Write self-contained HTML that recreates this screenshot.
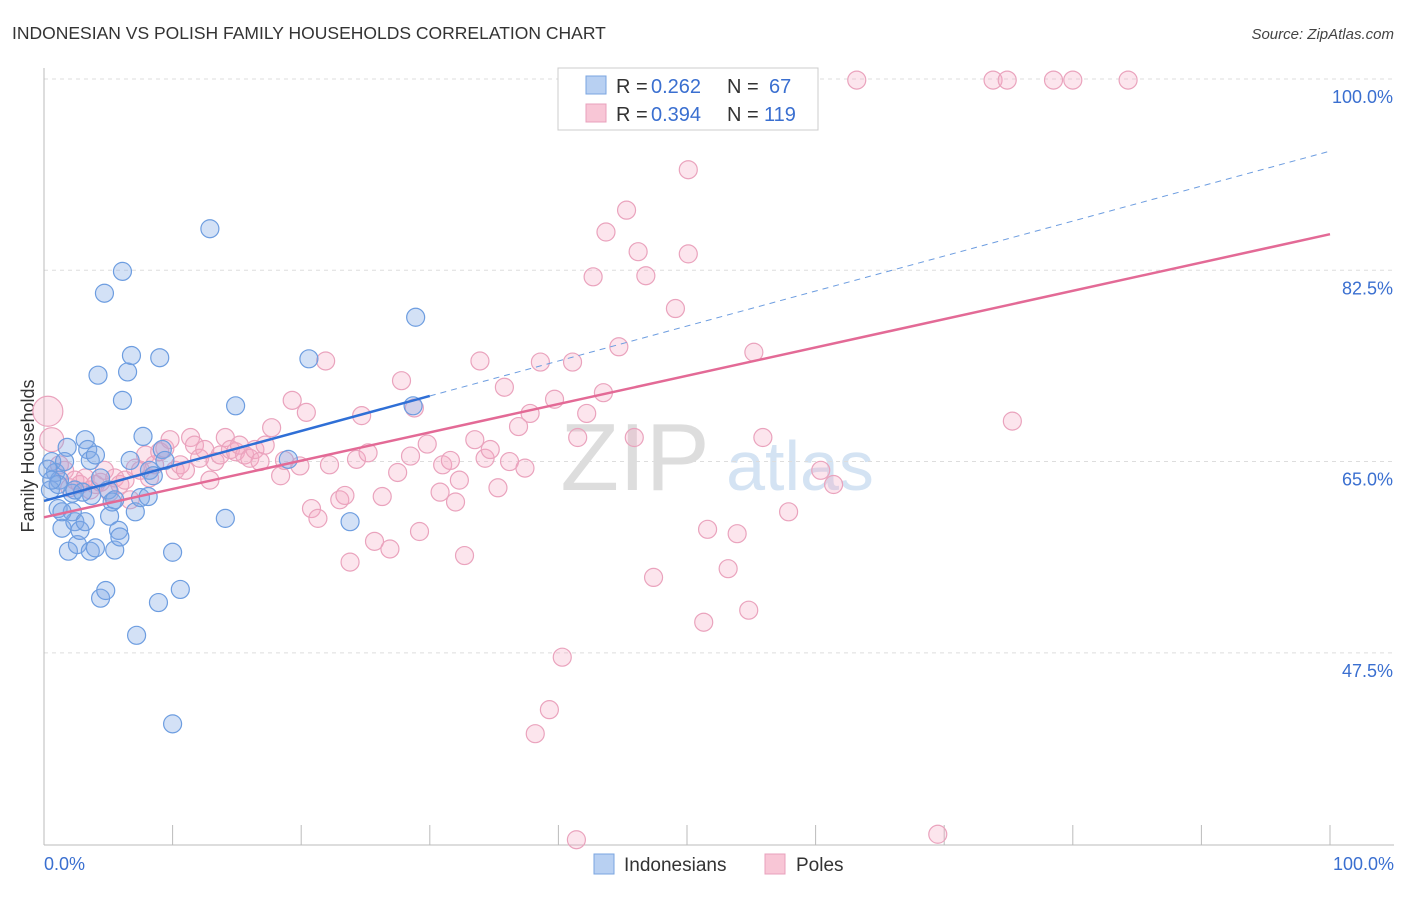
<!DOCTYPE html>
<html><head><meta charset="utf-8"><style>
body{margin:0;background:#fff;font-family:"Liberation Sans",sans-serif;}
svg text{font-family:"Liberation Sans",sans-serif;}
</style></head><body>
<svg id="chart" width="1406" height="892" xmlns="http://www.w3.org/2000/svg">
<text x="12" y="39" font-size="17.5" fill="#333">INDONESIAN VS POLISH FAMILY HOUSEHOLDS CORRELATION CHART</text>
<text x="1394" y="39" font-size="15" fill="#444" text-anchor="end" font-style="italic">Source: ZipAtlas.com</text>
<text x="34" y="456" font-size="18" fill="#333" transform="rotate(-90 34 456)" text-anchor="middle">Family Households</text>
<text x="635" y="490" font-size="96" fill="#ddd" font-family="Liberation Serif" text-anchor="middle">ZIP</text>
<text x="800" y="490" font-size="70" fill="#d4e3f3" text-anchor="middle">atlas</text>
<g id="grid"></g><g id="axes"></g><g id="pts"></g><g id="trend"></g>
<g>
<rect x="558" y="68" width="260" height="62" fill="#fff" stroke="#ccc"/>
<rect x="586" y="76" width="20" height="18" fill="#b8d0f2" stroke="#7aa5e0"/>
<rect x="586" y="104" width="20" height="18" fill="#f8c6d6" stroke="#e8a0bc"/>
<text x="616" y="93" font-size="20" fill="#333">R =</text>
<text x="651" y="93" font-size="20" fill="#3a6fd0">0.262</text>
<text x="727" y="93" font-size="20" fill="#333">N =</text>
<text x="769" y="93" font-size="20" fill="#3a6fd0">67</text>
<text x="616" y="121" font-size="20" fill="#333">R =</text>
<text x="651" y="121" font-size="20" fill="#3a6fd0">0.394</text>
<text x="727" y="121" font-size="20" fill="#333">N =</text>
<text x="764" y="121" font-size="20" fill="#3a6fd0">119</text>
</g>
<g>
<rect x="594" y="854" width="20" height="20" fill="#b8d0f2" stroke="#7aa5e0"/>
<text x="624" y="871" font-size="19" fill="#333">Indonesians</text>
<rect x="765" y="854" width="20" height="20" fill="#f8c6d6" stroke="#e8a0bc"/>
<text x="796" y="871" font-size="19" fill="#333">Poles</text>
</g>
</svg>
<script>
const yTicks=[100,82.5,65,47.5];
const yTickLabels=["100.0%","82.5%","65.0%","47.5%"];
const xTicks=[0,10,20,30,40,50,60,70,80,90,100];
const blueX=[0.6,0.9,0.5,1.2,1.8,1.6,1.1,1.4,1.9,2.2,2.4,2.6,2.8,3.2,3.4,3.6,3.7,4.0,4.2,4.4,4.7,4.8,5.0,5.1,5.3,5.5,5.8,5.9,6.1,6.1,6.5,6.7,6.8,7.1,7.2,7.5,7.7,8.1,8.2,8.5,8.9,9.0,9.2,9.4,10.0,10.6,10.0,12.9,14.1,14.9,19.0,20.6,23.8,28.9,28.7,2.2,3.6,1.4,0.3,1.1,4.0,3.2,0.6,2.4,4.4,5.5,3.0];
const blueY=[65.0,64.0,62.4,63.3,66.3,65.0,60.7,58.9,56.8,62.1,59.5,57.4,58.7,67.0,66.1,65.1,61.9,65.6,72.9,52.5,80.4,53.2,62.4,60.0,61.3,56.9,58.7,58.1,82.4,70.6,73.2,65.1,74.7,60.4,49.1,61.7,67.3,61.8,64.2,63.7,52.1,74.5,66.1,65.1,56.7,53.3,41.0,86.3,59.8,70.1,65.2,74.4,59.5,78.2,70.1,60.4,56.8,60.4,64.3,62.9,57.1,59.5,63.3,62.4,63.5,61.5,62.2];
const pinkX=[1.2,1.6,2.0,2.4,2.8,3.2,3.6,4.0,4.4,4.7,5.1,5.5,5.9,6.3,6.7,7.1,7.5,7.9,8.2,8.6,9.0,9.4,9.8,10.2,10.6,11.0,11.4,11.7,12.1,12.5,12.9,13.3,13.7,14.1,14.5,14.9,15.2,15.6,16.0,16.4,16.8,17.2,17.7,18.4,18.7,19.3,19.9,20.4,20.8,21.3,21.9,22.2,23.0,23.4,23.8,24.3,24.7,25.2,25.7,26.3,26.9,27.5,27.8,28.5,28.8,29.2,29.8,30.8,31.0,31.6,32.0,32.3,32.7,33.5,33.9,34.3,34.7,35.3,35.8,36.2,36.9,37.4,37.8,38.6,39.7,40.3,39.3,38.2,41.1,41.5,42.2,42.7,43.5,43.7,44.7,45.3,45.9,46.2,46.8,47.4,48.2,49.1,50.1,50.1,51.3,51.6,52.4,53.2,53.9,54.8,55.2,55.9,57.9,60.4,61.4,63.2,69.5,73.8,74.9,75.3,78.5,80.0,84.3,41.4,0.3,0.6];
const pinkY=[64.7,64.2,62.6,63.3,62.9,63.5,62.4,62.9,63.1,64.2,62.2,63.5,62.9,63.3,61.5,64.4,64.2,65.6,63.5,64.7,65.9,66.2,67.0,64.2,64.7,64.2,67.2,66.5,65.3,66.1,63.3,65.0,65.6,67.2,66.1,65.9,66.5,65.6,65.3,66.1,65.0,66.5,68.1,63.7,65.1,70.6,64.6,69.5,60.7,59.8,74.2,64.7,61.5,61.9,55.8,65.2,69.2,65.8,57.7,61.8,57.0,64.0,72.4,65.5,69.9,58.6,66.6,62.2,64.7,65.1,61.3,63.3,56.4,67.0,74.2,65.3,66.1,62.6,71.8,65.0,68.2,64.4,69.4,74.1,70.7,47.1,42.3,40.1,74.1,67.2,69.4,81.9,71.3,86.0,75.5,88.0,67.2,84.2,82.0,54.4,99.9,79.0,91.7,84.0,50.3,58.8,99.9,55.2,58.4,51.4,75.0,67.2,60.4,64.2,62.9,99.9,30.9,99.9,99.9,68.7,99.9,99.9,99.9,30.4,69.6,67.0];
const pinkR=pinkX.map((v,i)=>i===pinkX.length-2?15:(i===pinkX.length-1?12:9));
const blueTrend=[61.4,93.4]; // value at x=0, x=100
const blueSolidEnd=30;
const pinkTrend=[59.9,85.8];
const X=v=>44+v*12.86, Y=v=>79+(100-v)*10.93;
const NS="http://www.w3.org/2000/svg";
function mk(tag,attrs,parent){const e=document.createElementNS(NS,tag);for(const k in attrs)e.setAttribute(k,attrs[k]);parent.appendChild(e);return e;}
const grid=document.getElementById('grid'),axes=document.getElementById('axes'),pts=document.getElementById('pts'),tr=document.getElementById('trend');
yTicks.forEach((t,i)=>{
 const l=mk('line',{x1:44,x2:1394,y1:Y(t),y2:Y(t),stroke:'#ddd','stroke-dasharray':'4,4'},grid);
 
 
 const tx=mk('text',{x:1393,y:Y(t)+24,'font-size':18,fill:'#3a6fd0','text-anchor':'end'},grid);
 tx.textContent=yTickLabels[i];
 
 
});
const ax=mk('line',{x1:44,x2:44,y1:68,y2:845,stroke:'#bbb'},axes);


const bx=mk('line',{x1:44,x2:1394,y1:845,y2:845,stroke:'#bbb'},axes);


xTicks.forEach(t=>{const l=mk('line',{x1:X(t),x2:X(t),y1:825,y2:845,stroke:'#bbb'},axes);
 
 });
[[0,'0.0%','start',44],[100,'100.0%','end',1394]].forEach(a=>{const t=mk('text',{x:a[3],y:870,'font-size':18,fill:'#3a6fd0','text-anchor':a[2]},axes);t.textContent=a[1];
 
 });
pinkX.forEach((v,i)=>{const c=mk('circle',{cx:X(v),cy:Y(pinkY[i]),r:pinkR[i],fill:'rgba(244,170,196,0.3)',stroke:'#eaa3bd','stroke-width':1.2},pts);
 
 });
blueX.forEach((v,i)=>{const c=mk('circle',{cx:X(v),cy:Y(blueY[i]),r:9,fill:'rgba(130,170,230,0.35)',stroke:'#6d9de0','stroke-width':1.2},pts);
 
 });
const bAt=x=>blueTrend[0]+(blueTrend[1]-blueTrend[0])*x/100;
const b1=mk('line',{x1:X(0),y1:Y(bAt(0)),x2:X(blueSolidEnd),y2:Y(bAt(blueSolidEnd)),stroke:'#2f6fd6','stroke-width':2.5},tr);


const b2=mk('line',{x1:X(blueSolidEnd),y1:Y(bAt(blueSolidEnd)),x2:X(100),y2:Y(bAt(100)),stroke:'#6d9de0','stroke-width':1,'stroke-dasharray':'6,5'},tr);


const p1=mk('line',{x1:X(0),y1:Y(pinkTrend[0]),x2:X(100),y2:Y(pinkTrend[1]),stroke:'#e36a96','stroke-width':2.5},tr);


</script>
</body></html>
